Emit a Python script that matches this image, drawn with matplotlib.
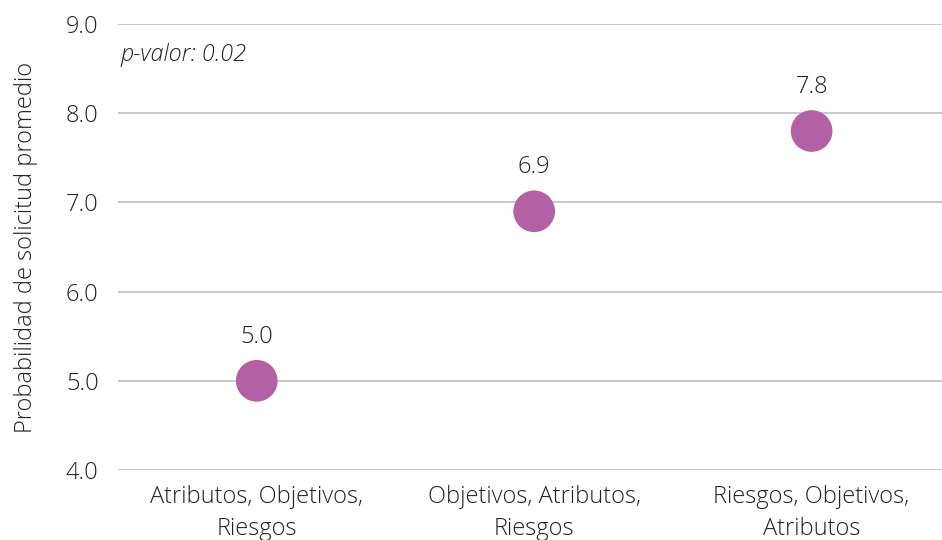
import matplotlib
matplotlib.use('Agg')
import matplotlib.pyplot as plt

# orden de presentación y probabilidad promedio
categorias = ['Atributos, Objetivos,\nRiesgos', 'Objetivos, Atributos,\nRiesgos', 'Riesgos, Objetivos,\nAtributos']
promedios = [5.0, 6.9, 7.8]
etiquetas = ['5.0', '6.9', '7.8']
yticks = [4.0, 5.0, 6.0, 7.0, 8.0, 9.0]

plt.rcParams['font.family'] = ['Open Sans', 'DejaVu Sans']
plt.rcParams['font.weight'] = 'light'

fig = plt.figure(figsize=(9.42, 5.4), dpi=100)
ax = fig.add_axes([0.1253, 0.1296, 0.8747, 0.826])

x = range(len(categorias))
ax.scatter(x, promedios, s=900, color='#B360A4', zorder=3, edgecolors='none')
for xi, yi, t in zip(x, promedios, etiquetas):
    ax.annotate(t, (xi, yi), xytext=(0, 23), textcoords='offset points',
                ha='center', va='bottom', fontsize=17, color='#222222', weight='light')

ax.set_ylim(4.0, 9.0)
ax.set_xlim(-0.5, 2.47)
ax.set_yticks(yticks)
ax.set_yticklabels([f'{v:.1f}' for v in yticks], fontsize=17, weight='light')
ax.set_xticks(list(x))
ax.set_xticklabels(categorias, fontsize=17, weight='light', linespacing=1.45)
ax.tick_params(axis='both', length=0, labelcolor='#222222')
ax.tick_params(axis='y', pad=14)
ax.tick_params(axis='x', pad=11)
ax.grid(axis='y', color='#BFBFBF', linewidth=1.2)
ax.set_axisbelow(True)
for s in ax.spines.values():
    s.set_visible(False)

ax.set_ylabel('Probabilidad de solicitud promedio', fontsize=17, color='#222222',
              labelpad=20, weight='light')
ax.text(0.003, 0.93, 'p-valor: 0.02', transform=ax.transAxes, fontsize=16.8,
        style='italic', color='#222222', va='center', weight='light')

fig.savefig('out.png', dpi=100)
